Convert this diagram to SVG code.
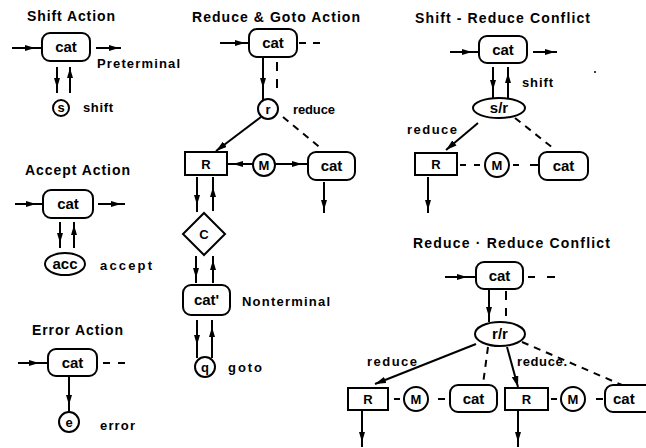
<svg xmlns="http://www.w3.org/2000/svg" width="646" height="448" viewBox="0 0 646 448">
<defs>
<style>
.ln{stroke:#000;stroke-width:2;fill:none}
.ds{stroke-dasharray:7 6}
.mid{marker-mid:url(#am)}
.end{marker-end:url(#ae)}
.box{fill:#fff;stroke:#000;stroke-width:2}
.t{font-family:"Liberation Sans",Arial,sans-serif;font-weight:bold;fill:#000}
.ti{font-size:14px}
.lb{font-size:13px}
.nd{font-size:15px;text-anchor:middle}
.ns{font-size:13px;text-anchor:middle}
</style>
<marker id="am" viewBox="0 0 10 6" refX="5" refY="3" markerWidth="10" markerHeight="6" markerUnits="userSpaceOnUse" orient="auto"><path d="M0 0L10 3L0 6Z"/></marker>
<marker id="ae" viewBox="0 0 10 6" refX="10" refY="3" markerWidth="11" markerHeight="7" markerUnits="userSpaceOnUse" orient="auto"><path d="M0 0L10 3L0 6Z"/></marker>
</defs>
<rect width="646" height="448" fill="#fff"/>

<g id="titles" class="t ti">
<text x="27" y="21" textLength="88" lengthAdjust="spacing">Shift Action</text>
<text x="25" y="175" textLength="105" lengthAdjust="spacing">Accept Action</text>
<text x="32" y="335" textLength="91" lengthAdjust="spacing">Error Action</text>
<text x="192" y="22" textLength="168" lengthAdjust="spacing">Reduce &amp; Goto Action</text>
<text x="415" y="23" textLength="175" lengthAdjust="spacing">Shift - Reduce Conflict</text>
<text x="413" y="248" textLength="197" lengthAdjust="spacing">Reduce · Reduce Conflict</text>
</g>

<g id="labels" class="t lb">
<text x="97" y="68" textLength="83" lengthAdjust="spacing">Preterminal</text>
<text x="83" y="112" textLength="30" lengthAdjust="spacing">shift</text>
<text x="100" y="270" textLength="52" lengthAdjust="spacing">accept</text>
<text x="100" y="430" textLength="35" lengthAdjust="spacing">error</text>
<text x="293" y="114" textLength="42" lengthAdjust="spacing">reduce</text>
<text x="242" y="306" textLength="88" lengthAdjust="spacing">Nonterminal</text>
<text x="228" y="372" textLength="34" lengthAdjust="spacing">goto</text>
<text x="522" y="87" textLength="31" lengthAdjust="spacing">shift</text>
<text x="407" y="134" textLength="50" lengthAdjust="spacing">reduce</text>
<text x="367" y="366" textLength="50" lengthAdjust="spacing">reduce</text>
<text x="517" y="366" textLength="50" lengthAdjust="spacing">reduce.</text>
</g>

<g id="connectors">
<path class="ln mid" d="M12 48L30 48L41 48"/>
<path class="ln mid" d="M96 48L114 48L121 48"/>
<path class="ln mid" d="M57 67L57 83L57 93"/>
<path class="ln mid" d="M70 93L70 73L70 67"/>
<path class="ln mid" d="M15 204L31 204L42 204"/>
<path class="ln mid" d="M98 204L116 204L125 204"/>
<path class="ln mid" d="M60 222L60 238L60 248"/>
<path class="ln mid" d="M74 248L74 230L74 222"/>
<path class="ln mid" d="M18 363L34 363L47 363"/>
<path class="ln" d="M103 363h7M118 363h7"/>
<path class="ln mid" d="M69 376L69 400L69 412"/>
<path class="ln mid" d="M220 43L240 43L248 43"/>
<path class="ln" d="M299 43h7M313 43h7"/>
<path class="ln mid" d="M263 58L263 83L263 100"/>
<path class="ln" d="M277 62v9M277 79v9"/>
<path class="ln end" d="M261 117L216 151"/>
<path class="ln ds" d="M283 117L323 150"/>
<path class="ln mid" d="M252 164L238 164L228 164"/>
<path class="ln mid" d="M276 164L297 164L307 164"/>
<path class="ln mid" d="M324 182L324 205L324 213"/>
<path class="ln mid" d="M197 177L197 200L197 212"/>
<path class="ln mid" d="M213 211L213 192L213 177"/>
<path class="ln mid" d="M196 256L196 273L196 283"/>
<path class="ln mid" d="M213 283L213 265L213 256"/>
<path class="ln mid" d="M197 320L197 340L197 358"/>
<path class="ln mid" d="M212 358L212 332L212 320"/>
<path class="ln mid" d="M450 52L467 52L478 52"/>
<path class="ln mid" d="M533 52L550 52L557 52"/>
<path class="ln mid" d="M493 67L493 85L493 98"/>
<path class="ln mid" d="M508 98L508 78L508 67"/>
<path class="ln end" d="M478 123L446 150"/>
<path class="ln ds" d="M515 118L553 148"/>
<path class="ln" d="M460 165h6M474 165h6"/>
<path class="ln" d="M513 165h6M530 165h8"/>
<path class="ln mid" d="M428 177L428 205L428 213"/>
<path class="ln mid" d="M445 277L462 277L475 277"/>
<path class="ln" d="M528 277h7M547 277h8"/>
<path class="ln mid" d="M489 289L489 312L489 322"/>
<path class="ln" d="M506 291v9M506 308v8"/>
<path class="ln end" d="M476 344L375 384"/>
<path class="ln ds" d="M488 347L483 384"/>
<path class="ln end" d="M507 347L518 387"/>
<path class="ln ds" d="M522 342L622 385"/>
<path class="ln" d="M394 399h6"/>
<path class="ln" d="M438 399h7"/>
<path class="ln" d="M551 399h6"/>
<path class="ln" d="M596 399h7"/>
<path class="ln mid" d="M362 411L362 437L362 447"/>
<path class="ln mid" d="M518 411L518 437L518 447"/>
</g>

<g id="sa-cat"><rect class="box" x="42" y="33" width="48" height="28" rx="8"/><text class="t nd" x="66" y="52">cat</text></g>
<g id="sa-s"><circle class="box" cx="61" cy="108" r="8"/><text class="t ns" x="61" y="112">s</text></g>

<g id="aa-cat"><rect class="box" x="43" y="190" width="50" height="28" rx="8"/><text class="t nd" x="68" y="209">cat</text></g>
<g id="aa-acc"><ellipse class="box" cx="65" cy="264" rx="20" ry="11"/><text class="t nd" x="65" y="269">acc</text></g>

<g id="ea-cat"><rect class="box" x="48" y="349" width="49" height="27" rx="8"/><text class="t nd" x="72.5" y="368">cat</text></g>
<g id="ea-e"><circle class="box" cx="69" cy="422" r="10"/><text class="t ns" x="69" y="426.5">e</text></g>

<g id="rg-cat"><rect class="box" x="249" y="29" width="48" height="28" rx="8"/><text class="t nd" x="273" y="48">cat</text></g>
<g id="rg-r"><circle class="box" cx="268" cy="109" r="10"/><text class="t ns" x="268" y="113.5">r</text></g>
<g id="rg-R"><rect class="box" x="185" y="152" width="42" height="23"/><text class="t ns" x="206" y="168.5">R</text></g>
<g id="rg-M"><circle class="box" cx="264" cy="165" r="11"/><text class="t ns" x="264" y="169.5">M</text></g>
<g id="rg-cat2"><rect class="box" x="308" y="152" width="47" height="28" rx="8"/><text class="t nd" x="331.5" y="171">cat</text></g>
<g id="rg-C"><path class="box" d="M204 213L225 234L204 255L183 234Z"/><text class="t ns" x="204" y="239">C</text></g>
<g id="rg-catp"><rect class="box" x="183" y="285" width="47" height="30" rx="8"/><text class="t nd" x="206.5" y="305">cat'</text></g>
<g id="rg-q"><circle class="box" cx="205" cy="367" r="10"/><text class="t ns" x="205" y="371.5">q</text></g>

<g id="sr-cat"><rect class="box" x="479" y="36" width="48" height="27" rx="8"/><text class="t nd" x="503" y="55">cat</text></g>
<circle cx="595" cy="72" r="1" fill="#000"/>
<g id="sr-sr"><ellipse class="box" cx="499" cy="108" rx="26" ry="10"/><text class="t nd" x="499" y="113">s/r</text></g>
<g id="sr-R"><rect class="box" x="415" y="153" width="42" height="22"/><text class="t ns" x="436" y="169">R</text></g>
<g id="sr-M"><circle class="box" cx="497" cy="165" r="12"/><text class="t ns" x="497" y="169.5">M</text></g>
<g id="sr-cat2"><rect class="box" x="539" y="152" width="49" height="28" rx="8"/><text class="t nd" x="563.5" y="171">cat</text></g>

<g id="rr-cat"><rect class="box" x="476" y="262" width="47" height="27" rx="8"/><text class="t nd" x="499.5" y="281">cat</text></g>
<g id="rr-rr"><ellipse class="box" cx="500" cy="334" rx="25" ry="12"/><text class="t nd" x="500" y="339">r/r</text></g>
<g id="rr-R1"><rect class="box" x="348" y="388" width="40" height="22"/><text class="t ns" x="368" y="404">R</text></g>
<g id="rr-M1"><circle class="box" cx="416" cy="399" r="12"/><text class="t ns" x="416" y="403.5">M</text></g>
<g id="rr-cat1"><rect class="box" x="450" y="385" width="47" height="27" rx="8"/><text class="t nd" x="473.5" y="404">cat</text></g>
<g id="rr-R2"><rect class="box" x="505" y="388" width="43" height="22"/><text class="t ns" x="526.5" y="404">R</text></g>
<g id="rr-M2"><circle class="box" cx="573" cy="399" r="12"/><text class="t ns" x="573" y="403.5">M</text></g>
<g id="rr-cat2"><rect class="box" x="605" y="385" width="50" height="27" rx="8"/><text class="t" style="font-size:15px" x="613" y="404">cat</text></g>
</svg>
